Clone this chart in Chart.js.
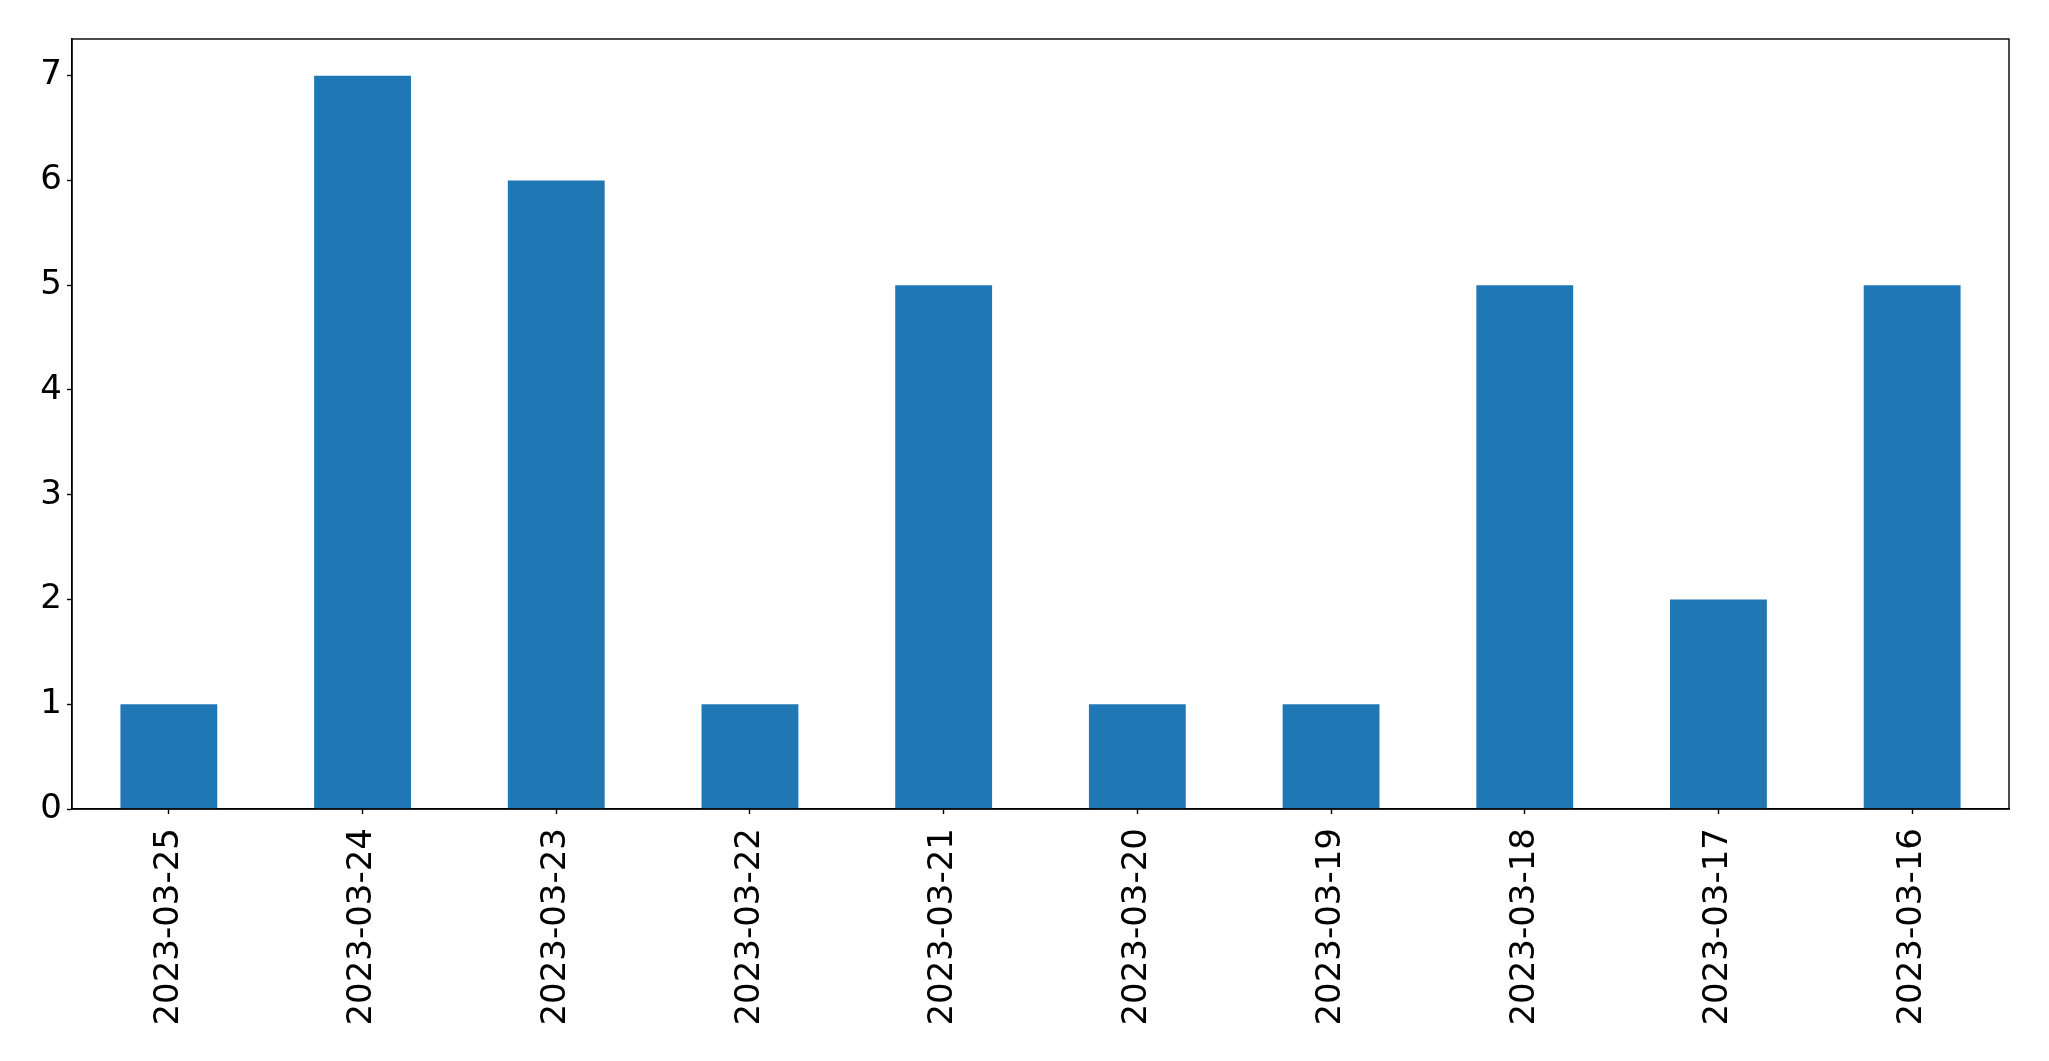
<!DOCTYPE html>
<html>
<head>
<meta charset="utf-8">
<script src="https://cdn.jsdelivr.net/npm/chart.js@4"></script>
<style>
html,body{margin:0;padding:0;background:#fff;}
#wrap{width:2049px;height:1061px;position:relative;}
</style>
</head>
<body>
<div id="wrap"><canvas id="c" width="2049" height="1061"></canvas></div>
<script>
const categories = ["2023-03-25","2023-03-24","2023-03-23","2023-03-22","2023-03-21","2023-03-20","2023-03-19","2023-03-18","2023-03-17","2023-03-16"];
const counts = [1,7,6,1,5,1,1,5,2,5];
const yTicks = [0,1,2,3,4,5,6,7];

const frame = {
  id:'frame',
  afterDraw(chart){
    const {ctx, chartArea:a} = chart;
    ctx.save();
    ctx.strokeStyle='#000';
    ctx.lineWidth=1.4;
    ctx.strokeRect(a.left, a.top, a.right-a.left, a.bottom-a.top);
    ctx.restore();
  }
};

const tickFont = {family:"'DejaVu Sans'", size:34};

new Chart(document.getElementById('c'), {
  type:'bar',
  data:{labels:categories, datasets:[{data:counts, backgroundColor:'#1f77b4', borderWidth:0, categoryPercentage:1, barPercentage:0.5}]},
  options:{
    responsive:false, animation:false,
    layout:{padding:{top:39, right:40, left:0, bottom:0}},
    plugins:{legend:{display:false}, tooltip:{enabled:false}},
    scales:{
      x:{
        offset:true,
        grid:{display:true, drawOnChartArea:false, tickLength:5, tickColor:'#000', tickWidth:1.4, offset:false},
        border:{display:true, color:'#000', width:1.4},
        ticks:{color:'#000', font:tickFont, minRotation:90, maxRotation:90, padding:14, autoSkip:false},
        afterFit(s){ s.height = 252; }
      },
      y:{
        min:0, max:7.35,
        grid:{display:true, drawOnChartArea:false, tickLength:5, tickColor:'#000', tickWidth:1.4},
        border:{display:true, color:'#000', width:1.4},
        ticks:{color:'#000', font:tickFont, stepSize:1, padding:5},
        afterBuildTicks(s){ s.ticks = yTicks.map(v=>({value:v})); },
        afterFit(s){ s.width = 72; }
      }
    }
  },
  plugins:[frame]
});
</script>
</body>
</html>
